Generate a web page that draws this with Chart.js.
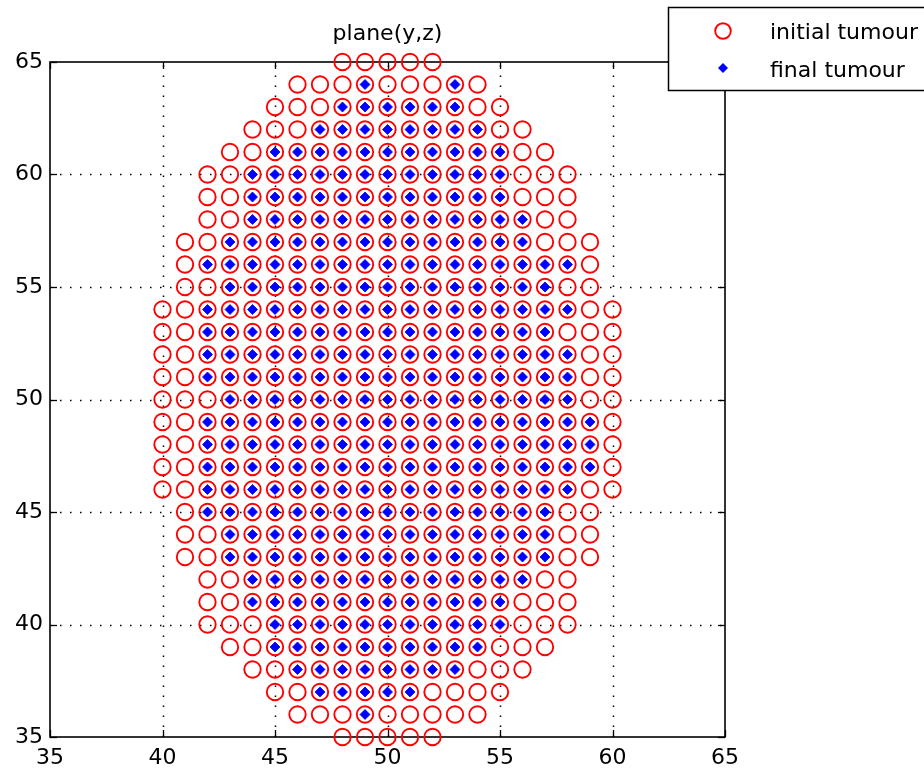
<!DOCTYPE html>
<html><head><meta charset="utf-8">
<script src="https://cdn.jsdelivr.net/npm/chart.js@4.4.1/dist/chart.umd.min.js"></script>
<style>html,body{margin:0;padding:0;background:#fff;}</style>
</head><body>
<canvas id="c" width="924" height="776"></canvas>
<script>
// Each row: [z value, first y value, last y value]
const initialRows = [
  [65,48,52],[64,46,54],[63,45,55],[62,44,56],[61,43,57],[60,42,58],[59,42,58],[58,42,58],
  [57,41,59],[56,41,59],[55,41,59],[54,40,60],[53,40,60],[52,40,60],[51,40,60],[50,40,60],
  [49,40,60],[48,40,60],[47,40,60],[46,40,60],[45,41,59],[44,41,59],[43,41,59],[42,42,58],
  [41,42,58],[40,42,58],[39,43,57],[38,44,56],[37,45,55],[36,46,54],[35,48,52]
];
const finalRows = [
  [64,49,49],[64,53,53],[63,48,53],[62,47,54],[61,45,55],[60,44,55],[59,44,55],[58,44,56],
  [57,43,56],[56,42,58],[55,43,57],[54,42,58],[53,42,57],[52,42,58],[51,42,58],[50,43,58],
  [49,42,59],[48,42,59],[47,42,59],[46,42,58],[45,42,57],[44,43,57],[43,43,57],[42,44,56],
  [41,44,55],[40,45,55],[39,45,54],[38,46,53],[37,47,51],[36,49,49]
];
const axisMin = 35, axisMax = 65, axisStep = 5;
const titleText = 'plane(y,z)';
const legendLabels = ['initial tumour', 'final tumour'];

function expand(rows){
  const pts = [];
  rows.forEach(([z, a, b]) => { for (let v = a; v <= b; v++) pts.push({x: v, y: z}); });
  return pts;
}

const FONT = '"DejaVu Sans", sans-serif';

const framePlugin = {
  id: 'frame',
  beforeDatasetsDraw(chart){
    const {ctx, chartArea: a, scales: {x, y}} = chart;
    ctx.save();
    ctx.strokeStyle = '#000';
    ctx.lineWidth = 1.5;
    ctx.setLineDash([1.5, 8.5]);
    x.ticks.forEach(t => {
      if (t.value === axisMin || t.value === axisMax) return;
      const px = Math.round(x.getPixelForValue(t.value)) + 0.5;
      ctx.beginPath(); ctx.moveTo(px, a.bottom); ctx.lineTo(px, a.top); ctx.stroke();
    });
    y.ticks.forEach(t => {
      if (t.value === axisMin || t.value === axisMax) return;
      const py = Math.round(y.getPixelForValue(t.value)) + 0.5;
      ctx.beginPath(); ctx.moveTo(a.left, py); ctx.lineTo(a.right, py); ctx.stroke();
    });
    ctx.setLineDash([]);
    ctx.lineWidth = 1.6;
    ctx.strokeRect(a.left, a.top, a.right - a.left, a.bottom - a.top);
    const tl = 7;
    ctx.lineWidth = 1.3;
    x.ticks.forEach(t => {
      const px = Math.round(x.getPixelForValue(t.value)) + 0.5;
      ctx.beginPath(); ctx.moveTo(px, a.bottom); ctx.lineTo(px, a.bottom - tl); ctx.stroke();
      ctx.beginPath(); ctx.moveTo(px, a.top); ctx.lineTo(px, a.top + tl); ctx.stroke();
    });
    y.ticks.forEach(t => {
      const py = Math.round(y.getPixelForValue(t.value)) + 0.5;
      ctx.beginPath(); ctx.moveTo(a.left, py); ctx.lineTo(a.left + tl, py); ctx.stroke();
      ctx.beginPath(); ctx.moveTo(a.right, py); ctx.lineTo(a.right - tl, py); ctx.stroke();
    });
    ctx.restore();
  },
  afterDraw(chart){
    const {ctx, chartArea: a} = chart;
    ctx.save();
    ctx.fillStyle = '#000';
    ctx.font = '22px ' + FONT;
    ctx.textAlign = 'center';
    ctx.textBaseline = 'alphabetic';
    ctx.fillText(titleText, (a.left + a.right) / 2, 40);
    // legend
    ctx.fillStyle = '#fff';
    ctx.fillRect(668, 7, 270, 83);
    ctx.strokeStyle = '#000';
    ctx.lineWidth = 1.5;
    ctx.strokeRect(668.5, 7.5, 270, 83);
    ctx.strokeStyle = '#ff0000';
    ctx.lineWidth = 1.9;
    ctx.beginPath(); ctx.arc(723, 31, 7.8, 0, Math.PI * 2); ctx.stroke();
    ctx.fillStyle = '#0000ff';
    ctx.beginPath();
    ctx.moveTo(723 - 5, 68); ctx.lineTo(723, 68 - 5); ctx.lineTo(723 + 5, 68); ctx.lineTo(723, 68 + 5);
    ctx.closePath(); ctx.fill();
    ctx.fillStyle = '#000';
    ctx.textAlign = 'left';
    ctx.fillText(legendLabels[0], 770, 39);
    ctx.fillText(legendLabels[1], 770, 77);
    ctx.restore();
  }
};

const tickFont = {family: FONT, size: 22};

new Chart(document.getElementById('c'), {
  type: 'scatter',
  data: {
    datasets: [
      {
        label: legendLabels[0],
        data: expand(initialRows),
        pointStyle: 'circle',
        pointRadius: 8.2,
        pointBorderWidth: 1.9,
        pointBorderColor: '#ff0000',
        pointBackgroundColor: 'rgba(0,0,0,0)',
        clip: false,
        order: 2
      },
      {
        label: legendLabels[1],
        data: expand(finalRows),
        pointStyle: 'rectRot',
        pointRadius: 5,
        pointBorderWidth: 0.8,
        pointBorderColor: '#0000ff',
        pointBackgroundColor: '#0000ff',
        clip: false,
        order: 1
      }
    ]
  },
  options: {
    responsive: false,
    animation: false,
    events: [],
    layout: {padding: {left: 0, right: 199, top: 62, bottom: 0}},
    plugins: {legend: {display: false}, tooltip: {enabled: false}, title: {display: false}},
    scales: {
      x: {
        type: 'linear', min: axisMin, max: axisMax,
        grid: {display: false, drawTicks: false},
        border: {display: false},
        ticks: {stepSize: axisStep, autoSkip: false, maxRotation: 0, color: '#000', font: tickFont, padding: 8},
        afterFit(s){ s.height = 39; }
      },
      y: {
        type: 'linear', min: axisMin, max: axisMax,
        grid: {display: false, drawTicks: false},
        border: {display: false},
        ticks: {stepSize: axisStep, autoSkip: false, color: '#000', font: tickFont, padding: 7},
        afterFit(s){ s.height; s.width = 50; }
      }
    }
  },
  plugins: [framePlugin]
});
</script>
</body></html>
